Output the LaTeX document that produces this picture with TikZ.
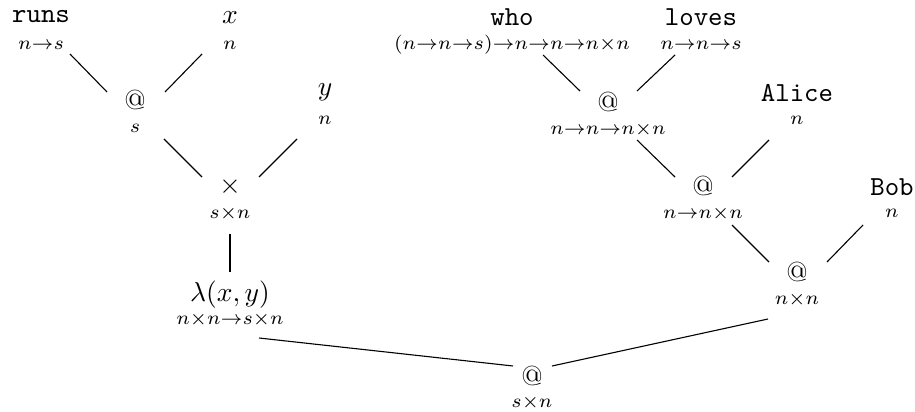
\documentclass[tikz,border=0pt]{standalone}
\begin{document}
\begin{tikzpicture}[x=0.36364pt,y=-0.36364pt,
  lab/.style={inner sep=0pt},
  ty/.style={inner sep=0pt},
  edge/.style={line width=0.4pt}]
\useasboundingbox (0,0) rectangle (915,412);
% left tree
\node[lab] (runs) at (41,17) {\texttt{runs}};
\node[ty] (runsT) at (41,45) {$\scriptstyle n\to s$};
\node[lab] (x) at (230,18) {$x$};
\node[ty] (xT) at (230,45) {$\scriptstyle n$};
\node[lab] (a1) at (135,100) {@};
\node[ty] (a1T) at (135,128) {$\scriptstyle s$};
\node[lab] (y) at (325,92) {$y$};
\node[ty] (yT) at (325,120) {$\scriptstyle n$};
\node[lab] (pr) at (230,187) {$\times$};
\node[ty] (prT) at (230,214) {$\scriptstyle s\times n$};
\node[lab] (lam) at (230,295) {$\lambda(x,y)$};
\node[ty] (lamT) at (230,320) {$\scriptstyle n\times n\to s\times n$};
% right tree
\node[lab] (who) at (512,17) {\texttt{who}};
\node[ty] (whoT) at (512,45) {$\scriptstyle (n\to n\to s)\to n\to n\to n\times n$};
\node[lab] (loves) at (701,17) {\texttt{loves}};
\node[ty] (lovesT) at (701,45) {$\scriptstyle n\to n\to s$};
\node[lab] (a2) at (608,102) {@};
\node[ty] (a2T) at (608,130) {$\scriptstyle n\to n\to n\times n$};
\node[lab] (alice) at (797,93) {\texttt{Alice}};
\node[ty] (aliceT) at (797,120) {$\scriptstyle n$};
\node[lab] (a3) at (703,186) {@};
\node[ty] (a3T) at (703,214) {$\scriptstyle n\to n\times n$};
\node[lab] (bob) at (892,187) {\texttt{Bob}};
\node[ty] (bobT) at (892,213) {$\scriptstyle n$};
\node[lab] (a4) at (797,272) {@};
\node[ty] (a4T) at (797,300) {$\scriptstyle n\times n$};
% root
\node[lab] (root) at (532,376) {@};
\node[ty] (rootT) at (532,403) {$\scriptstyle s\times n$};
% edges
\draw[edge] ([shift={(29,37)}]runs.center) -- ([shift={(-28,-8)}]a1.center);
\draw[edge] ([shift={(-28,36)}]x.center) -- ([shift={(30,-8)}]a1.center);
\draw[edge] ([shift={(29,39)}]a1.center) -- ([shift={(-28,-10)}]pr.center);
\draw[edge] ([shift={(-28,47)}]y.center) -- ([shift={(29,-10)}]pr.center);
\draw[edge] ([shift={(0,47)}]pr.center) -- ([shift={(0,-23)}]lam.center);
\draw[edge] ([shift={(29,43)}]lam.center) -- ([shift={(-19,-10)}]root.center);
\draw[edge] ([shift={(-29,47)}]a4.center) -- ([shift={(20,-10)}]root.center);
\draw[edge] ([shift={(31,38)}]who.center) -- ([shift={(-28,-11)}]a2.center);
\draw[edge] ([shift={(-26,38)}]loves.center) -- ([shift={(29,-11)}]a2.center);
\draw[edge] ([shift={(29,38)}]a2.center) -- ([shift={(-28,-9)}]a3.center);
\draw[edge] ([shift={(-28,47)}]alice.center) -- ([shift={(29,-9)}]a3.center);
\draw[edge] ([shift={(29,39)}]a3.center) -- ([shift={(-28,-10)}]a4.center);
\draw[edge] ([shift={(-29,38)}]bob.center) -- ([shift={(30,-10)}]a4.center);
\end{tikzpicture}
\end{document}
